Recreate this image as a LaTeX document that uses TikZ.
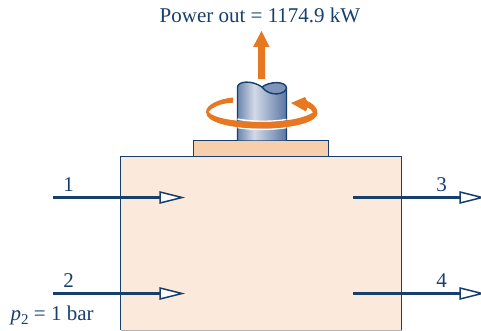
\documentclass[tikz,border=0pt]{standalone}
\usepackage{fontspec}
\setmainfont{Liberation Serif}
\definecolor{navy}{HTML}{173F6E}
\definecolor{boxfill}{HTML}{FBEADB}
\definecolor{plate}{HTML}{F8CFAC}
\definecolor{orangea}{HTML}{E87722}
\definecolor{shA}{HTML}{6C86AD}
\definecolor{shB}{HTML}{D3DAE8}
\definecolor{shC}{HTML}{5A76A3}
\definecolor{lobe}{HTML}{7D93B8}
\pgfdeclarehorizontalshading{shaftshade}{100bp}{
 color(0bp)=(shA);color(25bp)=(shA);color(42bp)=(shB);color(75bp)=(shC);color(100bp)=(shC)}
\tikzset{
 lbl/.style={text=navy,font=\fontsize{21}{24}\selectfont,inner sep=0pt,anchor=base},
 flowline/.style={draw=navy,line width=2.1pt},
 tiphead/.style={draw=navy,line width=1.5pt,fill=white,line join=miter},
 edgeline/.style={navy,line width=1.4pt}
}
\begin{document}
\begin{tikzpicture}[x=1pt,y=-1pt]
\useasboundingbox (0,0) rectangle (481,331);
% box
\path[fill=boxfill] (120.5,156.5) rectangle (401.5,330);
\coordinate (bTL) at (120.5,156.5);\coordinate (bTR) at (401.5,156.5);
\coordinate (bBL) at (120.5,330);\coordinate (bBR) at (401.5,330);
\draw[gray!60,line width=1pt] (bBL) -- (bBR);
\draw[edgeline] (bBL) -- (bTL) -- (bTR) -- (bBR);
% plate
\draw[edgeline,fill=plate] (193.5,140.5) rectangle (328.5,156.5);
% shaft
\path[shading=shaftshade] (237.5,140.5) -- (237.5,87) .. controls (238,81) and (252,80) .. (262,87)
 .. controls (270,81) and (286,81) .. (286.5,88) -- (286.5,140.5) -- cycle;
\path[fill=lobe] (262,87) .. controls (270,81) and (286,81) .. (286.5,88) .. controls (286,94) and (270,98) .. (262,87) -- cycle;
\draw[edgeline] (237.5,140.5) -- (237.5,87) .. controls (238,81) and (252,80) .. (262,87)
 .. controls (270,81) and (286,81) .. (286.5,88) -- (286.5,140.5);
\draw[edgeline] (262,87) .. controls (270,98) and (286,94) .. (286.5,88);
% swirl
\draw[white,line width=1.5pt] (237.5,119) .. controls (252,122) and (272,122) .. (286.5,119.5);
\draw[white,line width=1.5pt] (237.5,127.5) .. controls (252,130) and (272,130) .. (286.5,127.5);
\path[fill=orangea] (233,97.5) .. controls (218,99) and (206,105) .. (206,112)
 .. controls (206,123) and (232,128.5) .. (262,128.5)
 .. controls (294,128.5) and (317.5,122) .. (317.5,113)
 .. controls (317.5,107) and (312,103) .. (307,101)
 -- (305,97) -- (291,103) -- (306,111.5) -- (307.5,107.5)
 .. controls (310,108.5) and (312,110) .. (313,112.5)
 .. controls (306,117.5) and (286,122) .. (262,122)
 .. controls (236,122) and (213,118) .. (208.5,112)
 .. controls (212,107) and (222,103) .. (233,102.7) -- cycle;
% power arrow
\path[fill=orangea] (258,79) -- (258,47) -- (253,47) -- (261.5,31) -- (269.5,47) -- (265,47) -- (265,79) -- cycle;
% flows
\foreach \n/\xa/\xb/\y in {a/53/160/197.5,b/53/160/293.5,c/353/460/197.5,d/353/460/293.5}{
 \coordinate (s\n) at (\xa,\y);\coordinate (e\n) at (\xb,\y);
 \draw[flowline] (s\n) -- (e\n);
 \draw[tiphead] (e\n) ++(0,-5.5) -- ++(22,5.5) -- ++(-22,5.5) -- cycle;
}
\node[lbl] (t0) at (260,23) {Power out = 1174.9 kW};
\node[lbl] (t1) at (68.5,191) {1};
\node[lbl] (t2) at (68.5,287) {2};
\node[lbl] (t3) at (441.5,191) {3};
\node[lbl] (t4) at (441.5,287) {4};
\node[lbl,anchor=base west] (t5) at (10.5,320) {\textit{p}\raisebox{-0.22em}{\fontsize{15}{15}\selectfont 2} = 1 bar};
\end{tikzpicture}
\end{document}
